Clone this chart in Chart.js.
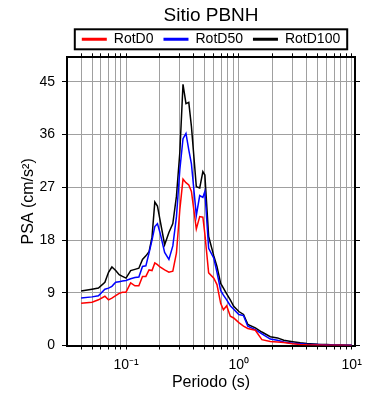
<!DOCTYPE html>
<html>
<head>
<meta charset="utf-8">
<script src="https://cdn.jsdelivr.net/npm/chart.js@4.4.0/dist/chart.umd.min.js"></script>
<style>
  html, body { margin: 0; padding: 0; background: #fff; }
</style>
</head>
<body>
<canvas id="graficoPSA" width="390" height="400"></canvas>
<script>
// Periodos (s) y espectros
const periodos = [0.04, 0.05, 0.057, 0.065, 0.07, 0.075, 0.081, 0.087, 0.093, 0.1,
  0.11, 0.12, 0.13, 0.14, 0.15, 0.16, 0.17, 0.18, 0.19, 0.2,
  0.22, 0.24, 0.26, 0.28, 0.3, 0.32, 0.34, 0.36, 0.38, 0.42,
  0.45, 0.48, 0.5, 0.54, 0.6, 0.64, 0.69, 0.73, 0.78, 0.84,
  0.9, 1.0, 1.1, 1.2, 1.4, 1.6, 1.9, 2.2, 2.5, 3,
  3.5, 4, 5, 6, 7, 8, 10];

const rotD0 = [7.2, 7.4, 7.8, 8.4, 7.8, 8.1, 8.5, 8.9, 9.1, 9.1,
  10.7, 10.2, 10.2, 11.8, 11.8, 12.9, 12.8, 14.1, 13.8, 13.4,
  12.9, 12.5, 12.7, 15.8, 23.2, 28.4, 27.8, 27.4, 26.3, 19.9,
  22.0, 21.9, 19.0, 12.4, 11.5, 10.4, 7.2, 6.1, 6.8, 5.0,
  4.7, 3.9, 3.3, 2.9, 2.6, 1.0, 0.7, 0.6, 0.5, 0.3,
  0.17, 0.12, 0.08, 0.05, 0.04, 0.03, 0.02];

const rotD50 = [8.1, 8.3, 8.5, 9.6, 9.8, 10.1, 10.8, 10.9, 11.0, 11.1,
  11.4, 11.6, 11.7, 13.5, 13.6, 15.8, 18.0, 20.3, 20.8, 19.3,
  15.9, 14.7, 17.0, 22.0, 30.0, 35.3, 36.2, 33.4, 31.0, 22.2,
  25.6, 25.3, 26.3, 16.6, 14.9, 12.5, 9.4, 8.6, 7.8, 6.8,
  6.2, 5.3, 5.1, 3.3, 2.7, 2.0, 1.1, 0.9, 0.6, 0.4,
  0.3, 0.22, 0.15, 0.1, 0.07, 0.05, 0.03];

const rotD100 = [9.3, 9.6, 9.8, 10.8, 12.5, 13.4, 12.8, 12.1, 11.8, 11.5,
  12.8, 13.0, 13.2, 14.7, 15.3, 16.0, 18.5, 24.5, 23.8, 21.5,
  17.2, 19.3, 20.8, 25.5, 33.0, 44.6, 41.3, 41.5, 37.4, 27.1,
  26.9, 29.7, 29.1, 18.6, 15.3, 13.5, 10.6, 9.8, 8.8, 7.8,
  6.7, 5.8, 5.3, 3.6, 3.0, 2.3, 1.5, 1.3, 0.9, 0.65,
  0.46, 0.35, 0.22, 0.15, 0.1, 0.08, 0.05];

const ticksY = [0, 9, 18, 27, 36, 45];
const etiquetasX = { 0.1: '10⁻¹', 1: '10⁰', 10: '10¹' };

// lineas de grilla en x: 1..9 por decada
const gradeX = [];
[0.01, 0.1, 1].forEach(d => {
  for (let k = 1; k <= 9; k++) {
    const v = +(k * d).toFixed(3);
    if (v >= 0.04) gradeX.push(v);
  }
});
gradeX.push(10);

const pontos = serie => periodos.map((p, i) => ({ x: p, y: serie[i] }));

Chart.defaults.font.family = '"Liberation Sans", Arial, sans-serif';
Chart.defaults.color = '#000';

const corGrade = '#a0a0a0';

// moldura da legenda
const molduraLegenda = {
  id: 'molduraLegenda',
  afterDraw(chart) {
    const caixas = chart.legend.legendHitBoxes;
    if (!caixas || !caixas.length) return;
    const ult = caixas[caixas.length - 1];
    const esq = caixas[0].left - 7;
    const dir = ult.left + ult.width + 7;
    const meio = caixas[0].top + caixas[0].height / 2;
    const ctx = chart.ctx;
    ctx.save();
    ctx.strokeStyle = '#000';
    ctx.lineWidth = 2;
    ctx.strokeRect(esq, meio - 10, dir - esq, 20);
    ctx.restore();
  }
};

const ctx = document.getElementById('graficoPSA').getContext('2d');
const graficoPSA = new Chart(ctx, {
  type: 'line',
  data: {
    datasets: [
      { label: 'RotD0', data: pontos(rotD0), borderColor: '#ff0000', backgroundColor: '#ff0000' },
      { label: 'RotD50', data: pontos(rotD50), borderColor: '#0000ff', backgroundColor: '#0000ff' },
      { label: 'RotD100', data: pontos(rotD100), borderColor: '#000000', backgroundColor: '#000000' }
    ]
  },
  options: {
    responsive: false,
    animation: false,
    layout: { padding: { left: 0, right: 30, top: 0, bottom: 0 } },
    elements: {
      line: { borderWidth: 1.5, tension: 0 },
      point: { radius: 0 }
    },
    plugins: {
      title: {
        display: true,
        text: 'Sitio PBNH',
        fullSize: false,
        font: { size: 19, weight: 'normal', lineHeight: 0.637 },
        padding: { top: 10.2, bottom: 0 }
      },
      legend: {
        display: true,
        position: 'top',
        fullSize: false,
        labels: {
          boxWidth: 25,
          boxHeight: 3,
          padding: 10,
          font: { size: 14 },
          generateLabels: chart => Chart.defaults.plugins.legend.labels.generateLabels(chart)
            .map(l => ({ ...l, lineWidth: 0, fillStyle: l.strokeStyle }))
        }
      },
      tooltip: { enabled: false }
    },
    scales: {
      x: {
        type: 'logarithmic',
        position: 'bottom',
        min: 0.03,
        max: 10.7,
        afterBuildTicks: axis => { axis.ticks = gradeX.map(v => ({ value: v })); },
        afterFit: axis => { axis.height = 54.5; },
        grid: { color: corGrade, lineWidth: 1, drawTicks: true, tickLength: 4, tickColor: '#000' },
        border: { display: true, color: '#000', width: 2 },
        ticks: {
          autoSkip: false,
          maxRotation: 0,
          padding: 7,
          font: { size: 14 },
          callback: v => etiquetasX[v] || ''
        },
        title: {
          display: true,
          text: 'Periodo (s)',
          font: { size: 16 },
          padding: { top: 0, bottom: 8 }
        }
      },
      x2: {
        type: 'logarithmic',
        position: 'top',
        min: 0.03,
        max: 10.7,
        afterBuildTicks: axis => { axis.ticks = gradeX.map(v => ({ value: v })); },
        afterFit: axis => { axis.height = 1; },
        grid: { drawOnChartArea: false, drawTicks: true, tickLength: 4, tickColor: '#000' },
        border: { display: true, color: '#000', width: 2 },
        ticks: { display: false }
      },
      y: {
        type: 'linear',
        position: 'left',
        min: 0,
        max: 49.2,
        afterBuildTicks: axis => { axis.ticks = ticksY.map(v => ({ value: v })); },
        afterFit: axis => { axis.width = 67; },
        grid: { color: corGrade, lineWidth: 1, drawTicks: true, tickLength: 5, tickColor: '#000' },
        border: { display: true, color: '#000', width: 2 },
        ticks: { padding: 7, font: { size: 14 } },
        title: {
          display: true,
          text: 'PSA (cm/s²)',
          font: { size: 16 },
          padding: { top: 19, bottom: 0 }
        }
      },
      y2: {
        type: 'linear',
        position: 'right',
        min: 0,
        max: 49.2,
        afterBuildTicks: axis => { axis.ticks = ticksY.map(v => ({ value: v })); },
        afterFit: axis => { axis.width = 5; },
        grid: { drawOnChartArea: false, drawTicks: true, tickLength: 5, tickColor: '#000' },
        border: { display: true, color: '#000', width: 2 },
        ticks: { display: false }
      }
    }
  },
  plugins: [molduraLegenda]
});
</script>
</body>
</html>
